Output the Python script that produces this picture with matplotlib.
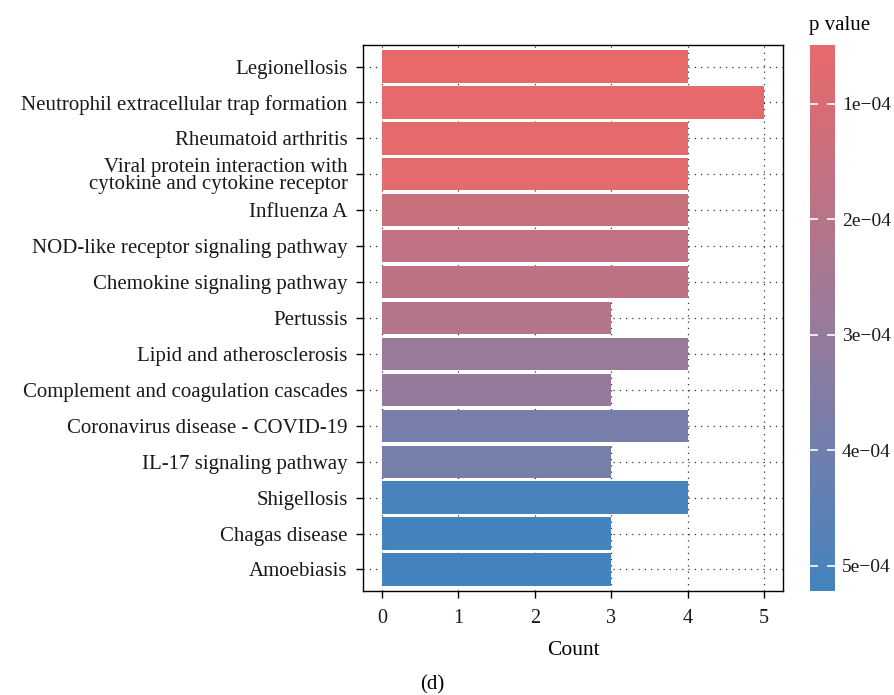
import numpy as np
import matplotlib
matplotlib.use("Agg")
import matplotlib.pyplot as plt
from matplotlib.colors import LinearSegmentedColormap, Normalize
from matplotlib.cm import ScalarMappable

plt.rcParams['font.family'] = ['Liberation Serif', 'DejaVu Serif']

pathways = ["Legionellosis",
            "Neutrophil extracellular trap formation",
            "Rheumatoid arthritis",
            "Viral protein interaction with\ncytokine and cytokine receptor",
            "Influenza A",
            "NOD-like receptor signaling pathway",
            "Chemokine signaling pathway",
            "Pertussis",
            "Lipid and atherosclerosis",
            "Complement and coagulation cascades",
            "Coronavirus disease - COVID-19",
            "IL-17 signaling pathway",
            "Shigellosis",
            "Chagas disease",
            "Amoebiasis"]
counts = [4, 5, 4, 4, 4, 4, 4, 3, 4, 3, 4, 3, 4, 3, 3]
pvals = [0.49e-4, 0.55e-4, 0.60e-4, 0.65e-4, 1.45e-4, 1.70e-4, 1.80e-4,
         2.15e-4, 2.85e-4, 2.95e-4, 3.80e-4, 3.85e-4, 5.10e-4, 5.20e-4, 5.22e-4]
cbar_ticks = [1e-4, 2e-4, 3e-4, 4e-4, 5e-4]
cbar_labels = ["1e\u221204", "2e\u221204", "3e\u221204", "4e\u221204", "5e\u221204"]

cmap = LinearSegmentedColormap.from_list("pv", ["#E8696A", "#9A7A9A", "#4483BF"])
norm = Normalize(vmin=min(pvals), vmax=max(pvals))

fig = plt.figure(figsize=(8.95, 6.95), dpi=100)
ax = fig.add_axes([0.4056, 0.1496, 0.4693, 0.7857])

ypos = np.arange(len(pathways))[::-1] + 1
ax.barh(ypos, counts, height=0.9, color=cmap(norm(np.array(pvals))), zorder=2)

ax.set_xlim(-0.25, 5.25)
ax.set_ylim(0.4, len(pathways) + 0.6)
ax.set_xticks(range(6))
ax.set_yticks(ypos)
ax.set_yticklabels(pathways, linespacing=0.9)
ax.set_axisbelow(True)
ax.grid(True, color="#333333", linestyle=(0, (1, 4)), linewidth=0.9)
for s in ax.spines.values():
    s.set_linewidth(1.0)
    s.set_color("black")
ax.tick_params(axis="both", direction="out", length=5, width=1, colors="black",
               labelsize=14.5, labelcolor="#1a1a1a")
ax.tick_params(axis="y", labelsize=15, pad=6)
ax.tick_params(axis="x", pad=8)
ax.set_xlabel("Count", fontsize=15.5, labelpad=9)

cax = fig.add_axes([0.905, 0.1496, 0.028, 0.7857])
sm = ScalarMappable(norm=norm, cmap=cmap)
cb = fig.colorbar(sm, cax=cax, ticks=cbar_ticks)
cb.ax.set_yticklabels(cbar_labels)
cb.ax.invert_yaxis()
cb.outline.set_visible(False)
cb.ax.tick_params(which="major", left=True, right=True, direction="in",
                  length=5.5, width=1.2, color="white", labelsize=14,
                  labelcolor="#1a1a1a", pad=5)
cb.ax.tick_params(which="minor", left=False, right=False)
cb.ax.set_title("p value", fontsize=15, pad=11, loc="left", x=-0.05)

fig.text(0.483, 0.015, "(d)", fontsize=15, ha="center", va="center")

fig.savefig("out.png", dpi=100)
